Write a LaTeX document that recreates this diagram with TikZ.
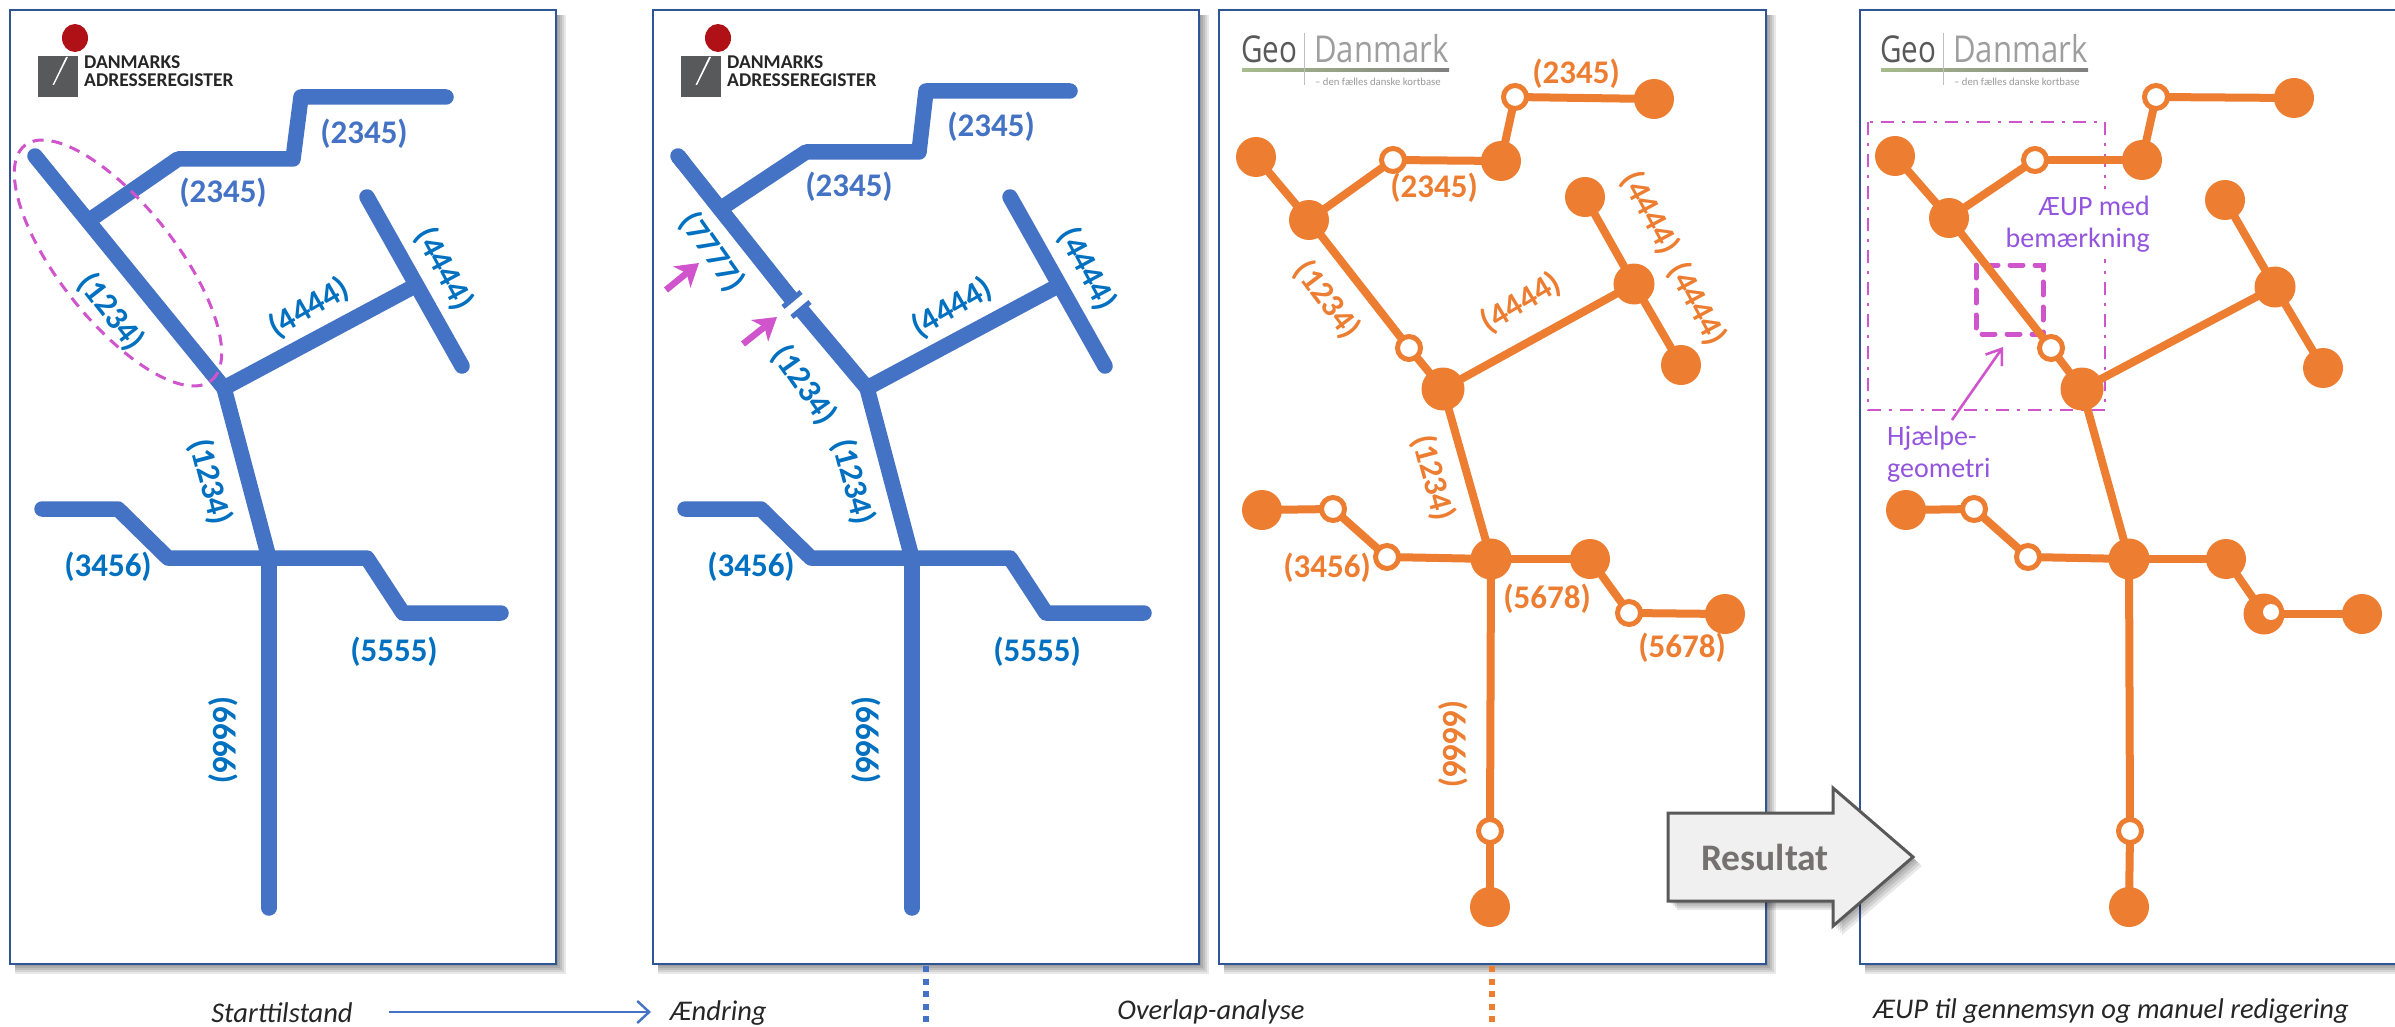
\documentclass[tikz,border=0pt]{standalone}
\usepackage{fontspec}
\setmainfont{Carlito}
\newfontfamily\logofont{Open Sans}[Scale=1]
\usetikzlibrary{arrows.meta,calc}
\definecolor{bluel}{HTML}{4472C4}
\definecolor{bluet}{HTML}{0070C0}
\definecolor{orng}{HTML}{ED7D31}
\definecolor{frame}{HTML}{2F5597}
\definecolor{pink}{HTML}{D055CC}
\definecolor{purp}{HTML}{9455DE}
\definecolor{dkred}{HTML}{B01116}
\definecolor{dkgrey}{HTML}{58595B}
\definecolor{gdgreen}{HTML}{A8BC8C}
\definecolor{restext}{HTML}{767171}
\tikzset{
  panel/.style={draw=frame,line width=2.6pt,fill=white},
  road/.style={draw=bluel,line width=15.5pt,line cap=round,line join=round},
  lbl/.style={font=\fontsize{33}{38}\selectfont\bfseries,inner sep=0pt},
  lblb/.style={lbl,text=bluel},
  lblc/.style={lbl,text=bluet},
  lblo/.style={lbl,text=orng},
  big/.style={circle,fill=orng,inner sep=0pt,outer sep=0pt,minimum size=40pt},
  bigger/.style={big,minimum size=43pt},
  hollow/.style={circle,draw=orng,fill=white,line width=5pt,inner sep=0pt,minimum size=23pt},
  oline/.style={draw=orng,line width=8pt,shorten <=-1pt,shorten >=-1pt},
  caption/.style={font=\fontsize{28.5}{32}\selectfont\itshape,inner sep=0pt,text=black!85},
  note/.style={font=\fontsize{28}{32}\selectfont,text=purp,inner sep=0pt},
  dktext/.style={font=\fontsize{19.5}{22}\selectfont\bfseries,inner sep=0pt,anchor=west,text=black!85},
}
\newcommand{\pshadow}[4]{%
  \foreach \d in {2,4,6,8,10}{\fill[black,opacity=.09] (#1+5,#2+5) rectangle (#3+\d,#4+\d);}%
}
\newcommand{\dklogo}[2]{%
  \begin{scope}[shift={(#1,0)}]
    \fill[dkgrey] (38,56) rectangle (78,97);
    \fill[white] (66,57) -- (68,57) -- (54,85) -- (52.5,85) -- cycle;
    \fill[dkred] (75,38) ellipse [x radius=13pt,y radius=14pt];
    \node[dktext] (#2a) at (84,62) {DANMARKS};
    \node[dktext] (#2b) at (84,80) {ADRESSEREGISTER};
  \end{scope}%
}
\newcommand{\gdlogo}[2]{%
  \begin{scope}[shift={(#1,0)}]
    \shade[left color=gdgreen,right color=gray] (1242,69) rectangle (1449,71.5);
    \draw[line width=1pt,draw=black!25] (1304,33) -- (1304,85);
    \node[font=\logofont\fontsize{37}{40}\selectfont,text=black!65,inner sep=0pt,anchor=west,xscale=.8] (#2a) at (1241,49) {Geo};
    \node[font=\logofont\fontsize{37}{40}\selectfont,text=black!38,inner sep=0pt,anchor=west,xscale=.84] (#2b) at (1314,49) {Danmark};
    \node[font=\fontsize{10.7}{13}\selectfont,text=black!40,inner sep=0pt,anchor=west] (#2c) at (1315,82) {– den fælles danske kortbase};
  \end{scope}%
}
\begin{document}
\begin{tikzpicture}[x=1pt,y=-1pt]
\useasboundingbox (0,0) rectangle (2395,1027);
\clip (0,0) rectangle (2395,1027);
\fill[white] (0,0) rectangle (2395,1027);

% panels
\pshadow{10}{10}{556}{964}
\draw[panel] (10,10) rectangle (556,964);
\pshadow{653}{10}{1199}{964}
\draw[panel] (653,10) rectangle (1199,964);
\pshadow{1219}{10}{1766}{964}
\draw[panel] (1219,10) rectangle (1766,964);
\pshadow{1860}{10}{2420}{964}
\draw[panel] (1860,10) rectangle (2420,964);

% dotted drop lines
\coordinate (bd1) at (926,966); \coordinate (bd2) at (926,1027);
\coordinate (od1) at (1492,966); \coordinate (od2) at (1492,1027);
\draw[bluel,line width=6pt,dash pattern=on 6pt off 6.5pt] (bd1) -- (bd2);
\draw[orng,line width=6pt,dash pattern=on 6pt off 6.5pt] (od1) -- (od2);

% logos
\dklogo{0}{dka}
\dklogo{643}{dkb}
\gdlogo{0}{gda}
\gdlogo{639}{gdb}

% panel 1 network
\coordinate (a0) at (35,156); \coordinate (aj) at (224,388);
\coordinate (ab) at (94,217); \coordinate (ab1) at (178,159); \coordinate (ab2) at (293,159);
\coordinate (ab3) at (301,97); \coordinate (ab4) at (446,97);
\coordinate (at1) at (367,197); \coordinate (at2) at (462,366); \coordinate (atj) at (411,288);
\coordinate (ax) at (269,558);
\coordinate (ah1) at (42,509); \coordinate (ah2) at (118,509); \coordinate (ah3) at (168,558);
\coordinate (ah4) at (367,558); \coordinate (ah5) at (403,613); \coordinate (ah6) at (501,613);
\coordinate (av) at (269,908);
\draw[road] (a0) -- (aj) -- (atj);
\draw[road] (at1) -- (at2);
\draw[road] (ab) -- (ab1) -- (ab2) -- (ab3) -- (ab4);
\draw[road] (aj) -- (ax);
\draw[road] (ah1) -- (ah2) -- (ah3) -- (ah4) -- (ah5) -- (ah6);
\draw[road] (ax) -- (av);
\draw[pink,line width=3pt,dash pattern=on 11pt off 8pt,shift={(118,263)},rotate=-51.6] (0,0) ellipse [x radius=150pt,y radius=58pt];
\node[lblb] (l1) at (364,134) {(2345)};
\node[lblb] (l2) at (223,193) {(2345)};
\node[lblc,rotate=-52] (l3) at (111,312) {(1234)};
\node[lblc,rotate=30] (l4) at (309,308) {(4444)};
\node[lblc,rotate=-62] (l5) at (444,269) {(4444)};
\node[lblc,rotate=-75] (l6) at (210,482) {(1234)};
\node[lblc] (l7) at (108,567) {(3456)};
\node[lblc] (l8) at (394,652) {(5555)};
\node[lblc,rotate=-90] (l9) at (223,740) {(6666)};

% panel 2 network
\coordinate (b0) at (678,156); \coordinate (bcu) at (792,299.5); \coordinate (bcl) at (801,309.5); \coordinate (bj) at (867,388);
\coordinate (bb) at (723,207); \coordinate (bb1) at (806,152); \coordinate (bb2) at (919,152);
\coordinate (bb3) at (926,91); \coordinate (bb4) at (1070,91);
\coordinate (bt1) at (1010,197); \coordinate (bt2) at (1105,366); \coordinate (btj) at (1054,288);
\coordinate (bx) at (912,558);
\coordinate (bh1) at (685,509); \coordinate (bh2) at (761,509); \coordinate (bh3) at (811,558);
\coordinate (bh4) at (1010,558); \coordinate (bh5) at (1046,613); \coordinate (bh6) at (1144,613);
\coordinate (bv) at (912,908);
\coordinate (tk1) at (783,307); \coordinate (tk2) at (801,292);
\coordinate (tk3) at (792,317); \coordinate (tk4) at (810,302);
\draw[road,line cap=butt] (b0) -- (bcu);
\draw[road] (b0) -- ($(b0)!0.05!(bcu)$);
\draw[road,line cap=butt] (bcl) -- (bj);
\draw[road] (bj) -- (btj);
\draw[road] (bt1) -- (bt2);
\draw[road] (bb) -- (bb1) -- (bb2) -- (bb3) -- (bb4);
\draw[road] (bj) -- (bx);
\draw[road] (bh1) -- (bh2) -- (bh3) -- (bh4) -- (bh5) -- (bh6);
\draw[road] (bx) -- (bv);
\draw[bluel,line width=5pt] (tk1) -- (tk2);
\draw[bluel,line width=5pt] (tk3) -- (tk4);
\node[lblb] (m1) at (991,127) {(2345)};
\node[lblb] (m2) at (849,187) {(2345)};
\node[lblc,rotate=-55] (m3) at (712,252) {(7777)};
\node[lblc,rotate=-55] (m4) at (804,385) {(1234)};
\node[lblc,rotate=30] (m5) at (952,308) {(4444)};
\node[lblc,rotate=-62] (m6) at (1087,269) {(4444)};
\node[lblc,rotate=-75] (m7) at (853,482) {(1234)};
\node[lblc] (m8) at (751,567) {(3456)};
\node[lblc] (m9) at (1037,652) {(5555)};
\node[lblc,rotate=-90] (m10) at (866,740) {(6666)};
\coordinate (pa1) at (666,290); \coordinate (pa2) at (699,263);
\coordinate (pb1) at (743,344); \coordinate (pb2) at (777,317);
\draw[pink,line width=6.5pt,-{Stealth[length=22pt,width=27pt,inset=6pt]}] (pa1) -- (pa2);
\draw[pink,line width=6.5pt,-{Stealth[length=22pt,width=27pt,inset=6pt]}] (pb1) -- (pb2);

% panel 3 network
\node[big] (c1) at (1256,157) {};
\node[big] (c2) at (1309,220) {};
\node[hollow] (c3) at (1393,160) {};
\node[big] (c4) at (1501,161) {};
\node[hollow] (c5) at (1515,97) {};
\node[big] (c6) at (1654,99) {};
\node[big] (c7) at (1585,197) {};
\node[big,minimum size=41pt] (c8) at (1634,284) {};
\node[big] (c9) at (1681,365) {};
\node[hollow] (c10) at (1409,348) {};
\node[bigger] (c11) at (1443,389) {};
\node[big,minimum size=41pt] (c12) at (1491,559) {};
\node[big] (c13) at (1590,559) {};
\node[hollow] (c14) at (1629,613) {};
\node[big] (c15) at (1725,614) {};
\node[hollow] (c16) at (1387,557) {};
\node[hollow] (c17) at (1333,509) {};
\node[big] (c18) at (1262,510) {};
\node[hollow] (c19) at (1490,831) {};
\node[big] (c20) at (1490,907) {};
\foreach \u/\v in {c1/c2,c2/c3,c3/c4,c4/c5,c5/c6,c2/c10,c10/c11,c11/c8,c7/c8,c8/c9,c11/c12,c18/c17,c17/c16,c16/c12,c12/c13,c13/c14,c14/c15,c12/c19,c19/c20}
  \draw[oline] (\u) -- (\v);
\node[lblo] (n1) at (1576,74) {(2345)};
\node[lblo] (n2) at (1434,188) {(2345)};
\node[lblo,rotate=-53] (n3) at (1327,300) {(1234)};
\node[lblo,rotate=31] (n4) at (1521,303) {(4444)};
\node[lblo,rotate=-62] (n5) at (1650,213) {(4444)};
\node[lblo,rotate=-62] (n6) at (1697,304) {(4444)};
\node[lblo,rotate=-75] (n7) at (1433,478) {(1234)};
\node[lblo] (n8) at (1327,568) {(3456)};
\node[lblo] (n9) at (1547,599) {(5678)};
\node[lblo] (n10) at (1682,648) {(5678)};
\node[lblo,rotate=-90] (n11) at (1453,744) {(6666)};

% panel 4 annotations
\coordinate (ra) at (1868,122); \coordinate (rb) at (2105,410);
\draw[pink,line width=2.8pt,dash pattern=on 13pt off 8pt on 3pt off 8pt] (ra) rectangle (rb);
\node[note,fill=white,align=right,anchor=north east,inner sep=0pt] (ae) at (2150,189) {\rule{0pt}{26.5pt}ÆUP med\\bemærkning\rule[-11pt]{0pt}{11pt}};
\node[note,align=left,anchor=west] (hj) at (1887,454) {Hjælpe-\\geometri};
\coordinate (sa) at (1976,265); \coordinate (sb) at (2043,334);
\draw[pink,line width=5pt,dash pattern=on 13pt off 12pt,line cap=round] (sa) rectangle (sb);
\coordinate (ha1) at (1952,420); \coordinate (ha2) at (2003,347);
\draw[pink,line width=2.6pt,-{Straight Barb[length=14pt,width=20pt,line width=2.6pt]}] (ha1) -- (ha2);

% panel 4 network
\node[big] (e1) at (1895,156) {};
\node[big] (e2) at (1949,218) {};
\node[hollow] (e3) at (2035,160) {};
\node[big] (e4) at (2142,160) {};
\node[hollow] (e5) at (2156,97) {};
\node[big] (e6) at (2294,98) {};
\node[big] (e7) at (2225,200) {};
\node[big,minimum size=41pt] (e8) at (2275,287) {};
\node[big] (e9) at (2323,368) {};
\node[hollow] (e10) at (2051,348) {};
\node[bigger] (e11) at (2082,389) {};
\node[big,minimum size=41pt] (e12) at (2129,559) {};
\node[big] (e13) at (2226,559) {};
\node[big,minimum size=41pt] (e14) at (2264,614) {};
\node[circle,fill=white,minimum size=16pt,inner sep=0pt] (e14h) at (2271,612) {};
\node[big] (e15) at (2362,614) {};
\node[hollow] (e16) at (2028,557) {};
\node[hollow] (e17) at (1974,509) {};
\node[big] (e18) at (1906,510) {};
\node[hollow] (e19) at (2130,831) {};
\node[big] (e20) at (2129,907) {};
\foreach \u/\v in {e1/e2,e2/e3,e3/e4,e4/e5,e5/e6,e2/e10,e10/e11,e11/e8,e7/e8,e8/e9,e11/e12,e18/e17,e17/e16,e16/e12,e12/e13,e13/e14,e14/e15,e12/e19,e19/e20}
  \draw[oline] (\u) -- (\v);

% Resultat arrow
\foreach \d in {3,5,7,9}{
  \fill[black,opacity=.09,shift={(\d,\d)}] (1668,813) -- (1833,813) -- (1833,788) -- (1913,857) -- (1833,926) -- (1833,901) -- (1668,901) -- cycle;
}
\draw[draw=black!65,fill=black!6,line width=3pt,line join=miter] (1668,813) -- (1833,813) -- (1833,788) -- (1913,857) -- (1833,926) -- (1833,901) -- (1668,901) -- cycle;
\node[font=\fontsize{37.5}{42}\selectfont\bfseries,text=restext,inner sep=0pt] (res) at (1765,857) {Resultat};

% captions
\node[caption] (cap1) at (282,1013) {Starttilstand};
\node[caption,anchor=west] (cap2) at (670,1013) {Ændring};
\node[caption] (cap3) at (1211,1012) {Overlap-analyse};
\node[caption] (cap4) at (2111,1011) {ÆUP til gennemsyn og manuel redigering};
\coordinate (ca1) at (389,1012); \coordinate (ca2) at (651,1012);
\draw[bluel,line width=2.4pt,-{Straight Barb[length=12pt,width=22pt,line width=2.4pt]}] (ca1) -- (ca2);
\end{tikzpicture}
\end{document}
